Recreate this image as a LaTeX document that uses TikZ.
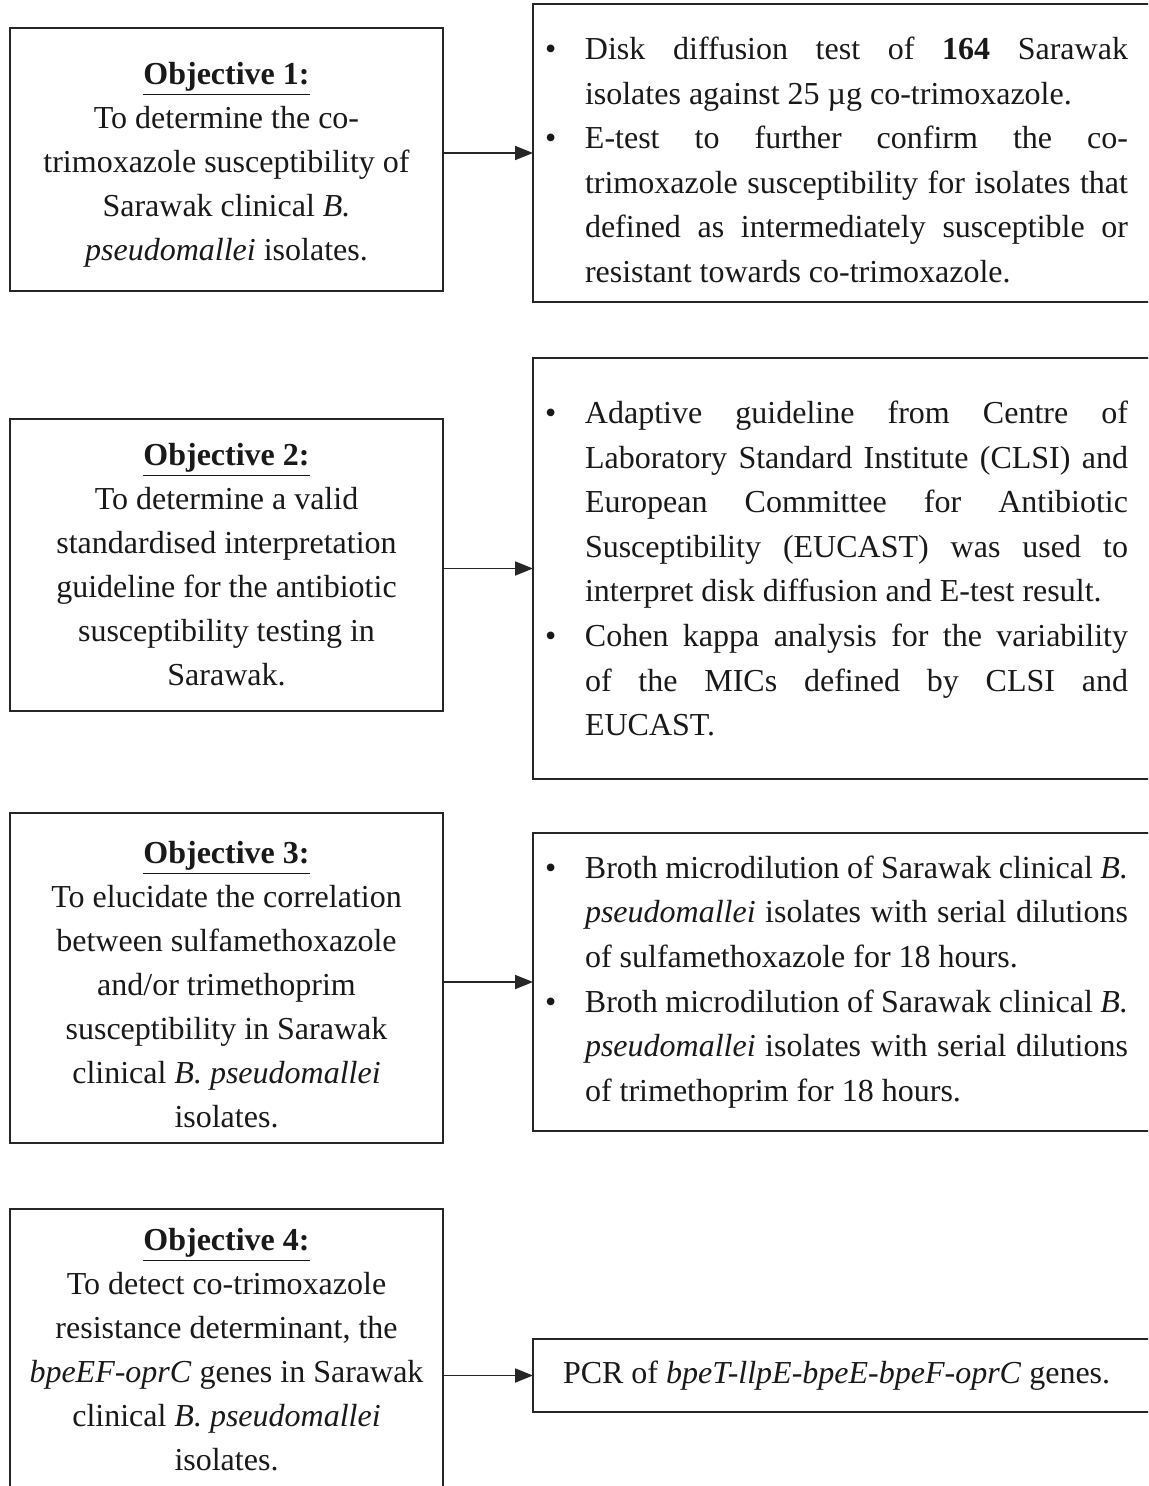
\documentclass[tikz,border=0pt]{standalone}
\usepackage{fontspec}
\setmainfont{Liberation Serif}
\usetikzlibrary{arrows.meta}
\newcommand{\bitem}[1]{\par\noindent\hangindent=20pt\hangafter=1\makebox[20pt][l]{\textbullet}#1\par}
\newcommand{\rsetup}{\hyphenpenalty=10000\exhyphenpenalty=10000\tolerance=10000\parindent=0pt}
\tikzset{
  objbox/.style={draw=black!85, line width=0.9pt, minimum width=216.5pt, outer sep=0pt, inner sep=0pt},
  objtext/.style={align=center, anchor=north, font=\fontsize{16}{22}\selectfont, text=black!90, inner sep=0pt},
  methbox/.style={draw=black!85, line width=0.9pt, inner xsep=6pt, inner ysep=0pt, anchor=west,
    outer sep=0pt, font=\fontsize{16}{22.3}\selectfont, text=black!90},
  arr/.style={-{Triangle[length=9pt,width=7pt]}, line width=0.9pt, draw=black!85}
}
\begin{document}
\begin{tikzpicture}[x=0.5pt,y=-0.5pt]
\clip (0,0) rectangle (1148,1486);
\fill[white] (0,0) rectangle (1148,1486);

% left objective boxes
\node[objbox, minimum height=131.5pt] (b1) at (226.5,159.5) {};
\node[objbox, minimum height=146pt] (b2) at (226.5,565) {};
\node[objbox, minimum height=165pt] (b3) at (226.5,978) {};
\node[objbox, minimum height=144pt] (b4) at (226.5,1353) {};

\node[objtext] (t1) at (226.5,62)
  {\underline{\textbf{Objective 1:}}\\
   To determine the co-\\
   trimoxazole susceptibility of\\
   Sarawak clinical \textit{B.}\\
   \textit{pseudomallei} isolates.};
\node[objtext] (t2) at (226.5,443)
  {\underline{\textbf{Objective 2:}}\\
   To determine a valid\\
   standardised interpretation\\
   guideline for the antibiotic\\
   susceptibility testing in\\
   Sarawak.};
\node[objtext] (t3) at (226.5,841)
  {\underline{\textbf{Objective 3:}}\\
   To elucidate the correlation\\
   between sulfamethoxazole\\
   and/or trimethoprim\\
   susceptibility in Sarawak\\
   clinical \textit{B. pseudomallei}\\
   isolates.};
\node[objtext] (t4) at (226.5,1228)
  {\underline{\textbf{Objective 4:}}\\
   To detect co-trimoxazole\\
   resistance determinant, the\\
   \textit{bpeEF-oprC} genes in Sarawak\\
   clinical \textit{B. pseudomallei}\\
   isolates.};

% right method boxes
\node[methbox, minimum height=149pt] (r1) at (533,153)
  {\makebox[303pt][l]{\begin{minipage}{291.5pt}\rsetup\vspace*{7pt}
   \bitem{Disk diffusion test of \textbf{164} Sarawak\linebreak isolates against 25 µg co-trimoxazole.}
   \bitem{E-test to further confirm the co-\linebreak trimoxazole susceptibility for isolates that\linebreak defined as intermediately susceptible or\linebreak resistant towards co-trimoxazole.}
   \end{minipage}}};
\node[methbox, minimum height=210.5pt] (r2) at (533,568.5)
  {\makebox[303pt][l]{\begin{minipage}{291.5pt}\rsetup
   \bitem{Adaptive guideline from Centre of\linebreak Laboratory Standard Institute (CLSI) and\linebreak European Committee for Antibiotic\linebreak Susceptibility (EUCAST) was used to\linebreak interpret disk diffusion and E-test result.}
   \bitem{Cohen kappa analysis for the variability\linebreak of the MICs defined by CLSI and\linebreak EUCAST.}
   \end{minipage}}};
\node[methbox, minimum height=149pt] (r3) at (533,982)
  {\makebox[303pt][l]{\begin{minipage}{291.5pt}\rsetup
   \bitem{Broth microdilution of Sarawak clinical \textit{B.}\linebreak \textit{pseudomallei} isolates with serial dilutions\linebreak of sulfamethoxazole for 18 hours.}
   \bitem{Broth microdilution of Sarawak clinical \textit{B.}\linebreak \textit{pseudomallei} isolates with serial dilutions\linebreak of trimethoprim for 18 hours.}
   \end{minipage}}};
\node[methbox, minimum height=36.5pt] (r4) at (533,1375.5)
  {\makebox[303pt][l]{\hspace{9pt}PCR of \textit{bpeT-llpE-bpeE-bpeF-oprC} genes.}};

% connectors
\draw[arr] (b1.east |- r1.west) -- (r1.west);
\draw[arr] (b2.east |- r2.west) -- (r2.west);
\draw[arr] (b3.east |- r3.west) -- (r3.west);
\draw[arr] (b4.east |- r4.west) -- (r4.west);
\end{tikzpicture}
\end{document}
